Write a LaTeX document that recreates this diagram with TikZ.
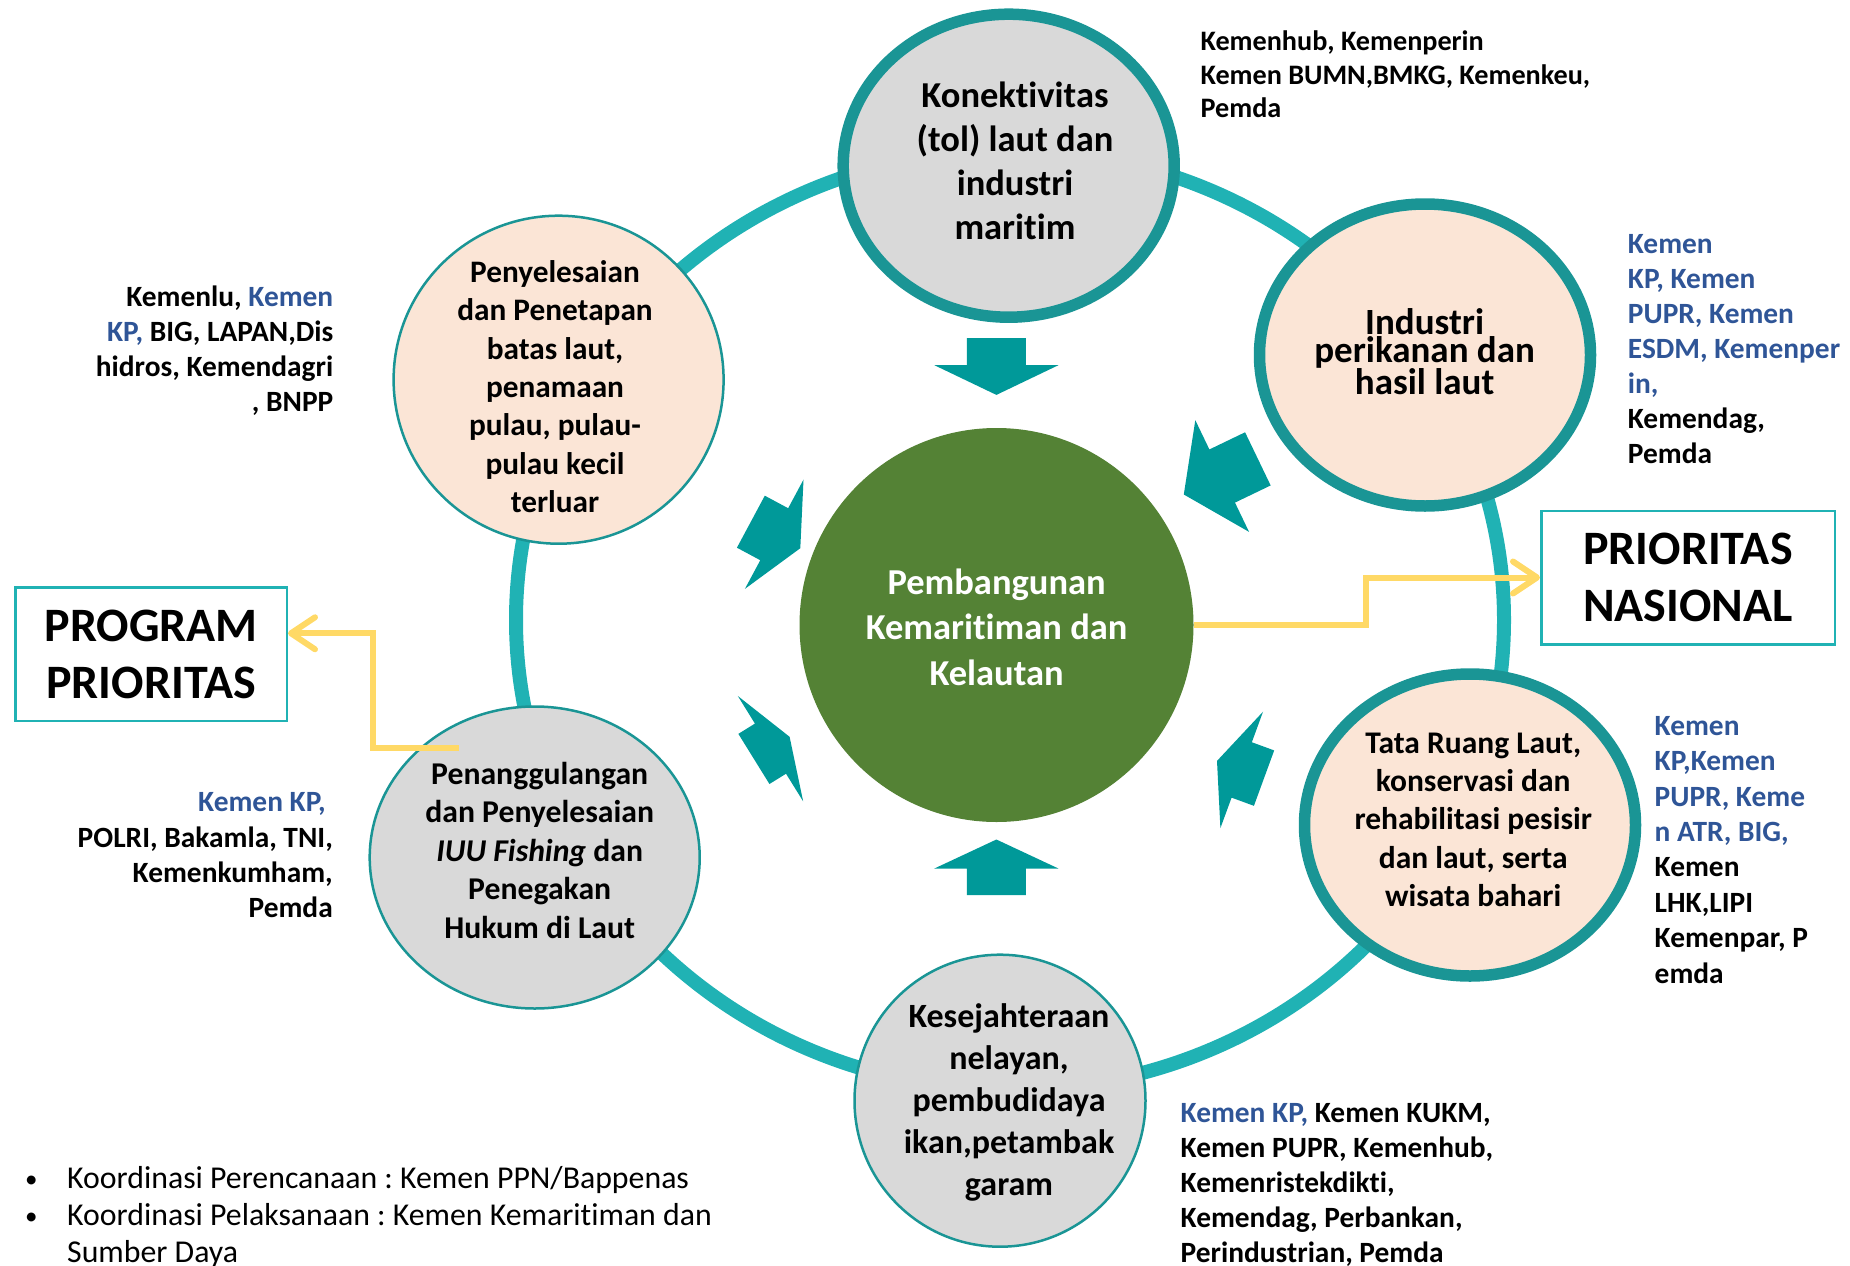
\documentclass[tikz,border=0pt]{standalone}
\usepackage{fontspec}
\setmainfont{Carlito}[Ligatures=NoCommon]
\usetikzlibrary{shapes.geometric,arrows.meta}
\definecolor{ringcol}{HTML}{20B2B4}
\definecolor{bordcol}{HTML}{1A9595}
\definecolor{arrowcol}{HTML}{009999}
\definecolor{peach}{HTML}{FBE5D6}
\definecolor{greyc}{HTML}{D9D9D9}
\definecolor{greenc}{HTML}{548235}
\definecolor{yelc}{HTML}{FFD966}
\definecolor{bluetxt}{HTML}{2F5597}
\newcommand{\fs}[2]{\fontsize{#1}{#2}\selectfont}
\newcommand{\bl}[1]{\textcolor{bluetxt}{#1}}
\newcommand{\bul}{\makebox[42pt][l]{\raisebox{1pt}{\fontsize{25}{25}\selectfont •}}}
\newcommand{\blockarrow}[5]{%
  \begin{scope}[shift={(#1,#2)},rotate={-(#3)}]
    \fill[arrowcol] (0,0) -- (-#5,62) -- (-#5,29.5) -- ({-#5-#4},29.5) -- ({-#5-#4},-29.5) -- (-#5,-29.5) -- (-#5,-62) -- cycle;
  \end{scope}}
\tikzset{
  thickc/.style={ellipse, draw=bordcol, line width=11.5pt, inner sep=0pt},
  thinc/.style={ellipse, draw=bordcol, line width=2.5pt, inner sep=0pt},
  ctxt/.style={inner sep=0pt, align=center},
  stxt/.style={inner sep=0pt},
  boxn/.style={draw=ringcol, line width=2.5pt, fill=white, inner sep=0pt, align=center, font={\fs{48}{57}\bfseries}},
  yel/.style={draw=yelc, line width=6pt, -{Straight Barb[length=24pt,width=32pt,round]}}
}
\frenchspacing
\begin{document}
\begin{tikzpicture}[x=1pt,y=-1pt]
\useasboundingbox (0,0) rectangle (1850,1266);
\clip (0,0) rectangle (1850,1266);

% ring
\draw[ringcol, line width=14pt] (1010,620) ellipse [x radius=494pt, y radius=470pt];

% outer circles
\node[thickc, fill=greyc, minimum width=331pt, minimum height=303pt] (kon) at (1008.7,165.7) {};
\node[thickc, fill=peach, minimum width=331pt, minimum height=302pt] (ind) at (1425,355) {};
\node[thickc, fill=peach, minimum width=331pt, minimum height=302pt] (tat) at (1470,825) {};
\node[thinc, fill=peach, minimum width=330pt, minimum height=328pt] (pen) at (558.6,379.7) {};
\node[thinc, fill=greyc, minimum width=330pt, minimum height=302pt] (iuu) at (534.7,857.5) {};
\node[thinc, fill=greyc, minimum width=291pt, minimum height=292pt] (kes) at (1000,1100.7) {};

% centre
\node[circle, fill=greenc, inner sep=0pt, minimum size=394pt] (green) at (996.5,625) {};

% block arrows towards the centre
\blockarrow{996.4}{394.9}{90}{27}{29.7}
\blockarrow{996.4}{839.5}{-90}{26.5}{29}
\blockarrow{800.3}{548.2}{28.2}{26.5}{29.6}
\blockarrow{1183.8}{494.5}{154.3}{39.6}{42.6}
\blockarrow{789.6}{736.8}{-31.8}{19.5}{22.5}
\blockarrow{1217}{760.9}{200.1}{23.8}{26.3}

% boxes
\node[boxn, minimum width=293.5pt, minimum height=133.5pt] (pn) at (1688,577.5) {PRIORITAS\\NASIONAL};
\node[boxn, minimum width=271.3pt, minimum height=133.1pt] (pp) at (151.1,654.2) {PROGRAM\\PRIORITAS};

% yellow connectors
\coordinate (rbend) at (1366,0);
\draw[yel] (green.east) -| (rbend |- pn.west) -- (pn.west);
\coordinate (lstart) at (459,748.4);
\coordinate (lbend) at (373,0);
\coordinate (lrow) at (0,633.3);
\draw[yel] (lstart) -| (lbend |- lrow) -- (pp.east |- lrow);

% circle texts
\node[ctxt, font={\fs{36.5}{44}\bfseries}] (konT) at (1015,160.8) {Konektivitas\\(tol) laut dan\\industri\\maritim};
\node[ctxt, font={\fs{37}{27.3}\bfseries}] (indT) at (1424.6,352) {Industri\\perikanan dan\\hasil laut};
\node[ctxt, font={\fs{31.5}{38.2}\bfseries}] (tatT) at (1473.2,819.7) {Tata Ruang Laut,\\konservasi dan\\rehabilitasi pesisir\\dan laut, serta\\wisata bahari};
\node[ctxt, font={\fs{31.3}{38.3}\bfseries}] (penT) at (555,386.7) {Penyelesaian\\dan Penetapan\\batas laut,\\penamaan\\pulau, pulau-\\pulau kecil\\terluar};
\node[ctxt, font={\fs{31.7}{38.5}\bfseries}] (iuuT) at (539.7,850.4) {Penanggulangan\\dan Penyelesaian\\\textit{IUU Fishing} dan\\Penegakan\\Hukum di Laut};
\node[ctxt, font={\fs{34}{42}\bfseries}] (kesT) at (1009,1102) {Kesejahteraan\\nelayan,\\pembudidaya\\ikan,petambak\\garam};
\node[ctxt, text=white, font={\fs{36.5}{45.5}\bfseries}] (greenT) at (996.6,627) {Pembangunan\\Kemaritiman dan\\Kelautan};

% side texts
\node[stxt, anchor=north west, align=left, font={\fs{28.2}{33.3}\bfseries}] (s1) at (1200.4,31) {Kemenhub, Kemenperin\\Kemen BUMN,BMKG, Kemenkeu,\\Pemda};
\node[stxt, anchor=north west, align=left, font={\fs{29.4}{35.1}\bfseries}] (s2) at (1627.7,233.8) {\bl{Kemen}\\\bl{KP, Kemen}\\\bl{PUPR, Kemen}\\\bl{ESDM, Kemenper}\\\bl{in,}\\Kemendag,\\Pemda};
\node[stxt, anchor=north east, align=right, font={\fs{29.4}{35}\bfseries}] (s3) at (333.5,285.5) {Kemenlu, \bl{Kemen}\\\bl{KP,} BIG, LAPAN,Dis\\hidros, Kemendagri\\, BNPP};
\node[stxt, anchor=north east, align=right, font={\fs{29.4}{35.4}\bfseries}] (s4) at (333,792.5) {\bl{Kemen KP,}\hspace*{7pt}\\POLRI, Bakamla, TNI,\\Kemenkumham,\\Pemda};
\node[stxt, anchor=north west, align=left, font={\fs{29.4}{35.4}\bfseries}] (s5) at (1654.5,716) {\bl{Kemen}\\\bl{KP,Kemen}\\\bl{PUPR, Keme}\\\bl{n ATR, BIG,}\\Kemen\\LHK,LIPI\\Kemenpar, P\\emda};
\node[stxt, anchor=north west, align=left, font={\fs{29.4}{35.1}\bfseries}] (s6) at (1180.5,1103) {\bl{Kemen KP,} Kemen KUKM,\\Kemen PUPR, Kemenhub,\\Kemenristekdikti,\\Kemendag, Perbankan,\\Perindustrian, Pemda};

% bullets
\node[stxt, anchor=north west, align=left, font={\fs{31.8}{37.3}}] (bul) at (25,1166) {\bul Koordinasi Perencanaan : Kemen PPN/Bappenas\\\bul Koordinasi Pelaksanaan : Kemen Kemaritiman dan\\\hspace*{42pt}Sumber Daya};
\end{tikzpicture}
\end{document}
